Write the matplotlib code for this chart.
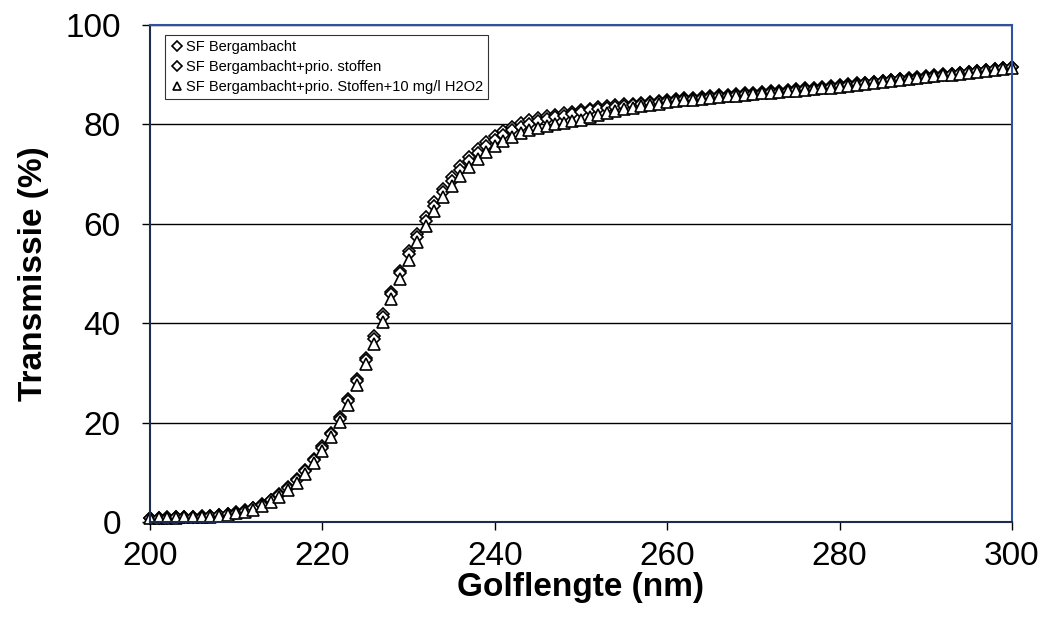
import numpy as np
import matplotlib.pyplot as plt

plt.rcParams['font.family'] = ['Liberation Sans', 'DejaVu Sans']

# Golflengte (nm)
wavelength = np.arange(200, 301)

# SF Bergambacht
sf_berg = [0.8, 0.8, 0.9, 0.9, 1.0, 1.1, 1.2, 1.3, 1.5, 1.7,
           2.0, 2.4, 2.9, 3.6, 4.5, 5.6, 7.0, 8.6, 10.5, 12.7,
           15.2, 18.0, 21.2, 24.8, 28.8, 33.0, 37.4, 41.8, 46.3, 50.5,
           54.5, 58.0, 61.3, 64.3, 67.0, 69.5, 71.6, 73.5, 75.1, 76.5,
           77.7, 78.7, 79.5, 80.2, 80.8, 81.2, 81.6, 81.9, 82.2, 82.5,
           82.8, 83.1, 83.4, 83.6, 83.8, 84.0, 84.2, 84.4, 84.6, 84.8,
           85.0, 85.1, 85.3, 85.4, 85.6, 85.7, 85.9, 86.0, 86.1, 86.3,
           86.4, 86.6, 86.7, 86.8, 87.0, 87.1, 87.3, 87.4, 87.6, 87.7,
           87.9, 88.1, 88.3, 88.4, 88.6, 88.8, 89.0, 89.2, 89.3, 89.5,
           89.7, 89.9, 90.1, 90.2, 90.4, 90.6, 90.8, 91.0, 91.2, 91.4,
           91.6]

# SF Bergambacht+prio. stoffen
sf_prio = [0.8, 0.8, 0.8, 0.9, 1.0, 1.0, 1.1, 1.2, 1.4, 1.6,
           1.9, 2.3, 2.8, 3.5, 4.4, 5.4, 6.8, 8.4, 10.2, 12.4,
           14.9, 17.7, 20.8, 24.4, 28.3, 32.5, 36.9, 41.3, 45.8, 50.0,
           53.9, 57.4, 60.6, 63.6, 66.3, 68.7, 70.8, 72.7, 74.3, 75.7,
           76.9, 77.9, 78.8, 79.5, 80.1, 80.6, 81.0, 81.4, 81.7, 82.0,
           82.5, 82.8, 83.1, 83.3, 83.5, 83.7, 83.9, 84.1, 84.3, 84.5,
           84.8, 84.9, 85.1, 85.2, 85.4, 85.5, 85.7, 85.8, 85.9, 86.1,
           86.2, 86.4, 86.5, 86.6, 86.8, 86.9, 87.1, 87.2, 87.4, 87.5,
           87.8, 88.0, 88.2, 88.3, 88.5, 88.7, 88.9, 89.1, 89.2, 89.4,
           89.6, 89.8, 90.0, 90.1, 90.3, 90.5, 90.7, 90.9, 91.1, 91.3,
           91.5]

# SF Bergambacht+prio. Stoffen+10 mg/l H2O2
sf_h2o2 = [0.7, 0.7, 0.8, 0.8, 0.9, 1.0, 1.0, 1.1, 1.3, 1.5,
           1.8, 2.1, 2.5, 3.2, 4.0, 5.0, 6.4, 7.9, 9.7, 11.8,
           14.3, 17.0, 20.1, 23.6, 27.5, 31.7, 35.9, 40.3, 44.8, 48.9,
           52.8, 56.3, 59.6, 62.6, 65.3, 67.7, 69.7, 71.5, 73.1, 74.5,
           75.7, 76.7, 77.5, 78.2, 78.8, 79.2, 79.6, 80.0, 80.3, 80.6,
           80.9, 81.4, 81.9, 82.3, 82.7, 83.0, 83.3, 83.6, 83.9, 84.2,
           84.5, 84.7, 84.9, 85.0, 85.2, 85.3, 85.6, 85.7, 85.8, 86.0,
           86.1, 86.3, 86.4, 86.5, 86.7, 86.8, 87.0, 87.1, 87.3, 87.4,
           87.6, 87.8, 88.0, 88.1, 88.3, 88.6, 88.8, 89.0, 89.1, 89.3,
           89.5, 89.7, 89.9, 90.0, 90.2, 90.4, 90.6, 90.8, 91.0, 91.2,
           91.4]

labels = ['SF Bergambacht',
          'SF Bergambacht+prio. stoffen',
          'SF Bergambacht+prio. Stoffen+10 mg/l H2O2']

fig = plt.figure(figsize=(10.44, 6.34), dpi=100)
ax = fig.add_axes([0.1437, 0.1767, 0.8256, 0.7839])

# gridlines first so markers draw on top
ax.set_axisbelow(True)
ax.yaxis.grid(True, color='black', linewidth=1.0)

mk = dict(linestyle='none', markerfacecolor='white', markeredgecolor='black',
          markeredgewidth=1.2, clip_on=False)
ax.plot(wavelength, sf_berg, marker='D', markersize=6.5, label=labels[0], **mk)
ax.plot(wavelength, sf_prio, marker='D', markersize=6.5, label=labels[1], **mk)
ax.plot(wavelength, sf_h2o2, marker='^', markersize=8, label=labels[2], **mk)

ax.set_xlim(200, 300)
ax.set_ylim(0, 100)
ax.set_xticks(np.arange(200, 301, 20))
ax.set_yticks(np.arange(0, 101, 20))
ax.tick_params(axis='both', direction='out', length=6, width=1, labelsize=24)
ax.tick_params(axis='x', pad=8)
ax.tick_params(axis='y', pad=15)

ax.set_xlabel('Golflengte (nm)', fontsize=24, fontweight='bold', labelpad=0)
ax.set_ylabel('Transmissie (%)', fontsize=24, fontweight='bold', labelpad=12)

for s in ['left', 'bottom']:
    ax.spines[s].set_color('#1c2c4c')
    ax.spines[s].set_linewidth(1.5)
for s in ['top', 'right']:
    ax.spines[s].set_color('#2f52a0')
    ax.spines[s].set_linewidth(1.5)

leg = ax.legend(loc='upper left', bbox_to_anchor=(0.017, 0.98),
                borderaxespad=0, fontsize=10.5, frameon=True, fancybox=False,
                edgecolor='black', handletextpad=0.1, handlelength=1.0,
                labelspacing=0.4, borderpad=0.35, markerscale=0.8)
leg.get_frame().set_linewidth(0.8)

fig.savefig('out.png', dpi=100)
